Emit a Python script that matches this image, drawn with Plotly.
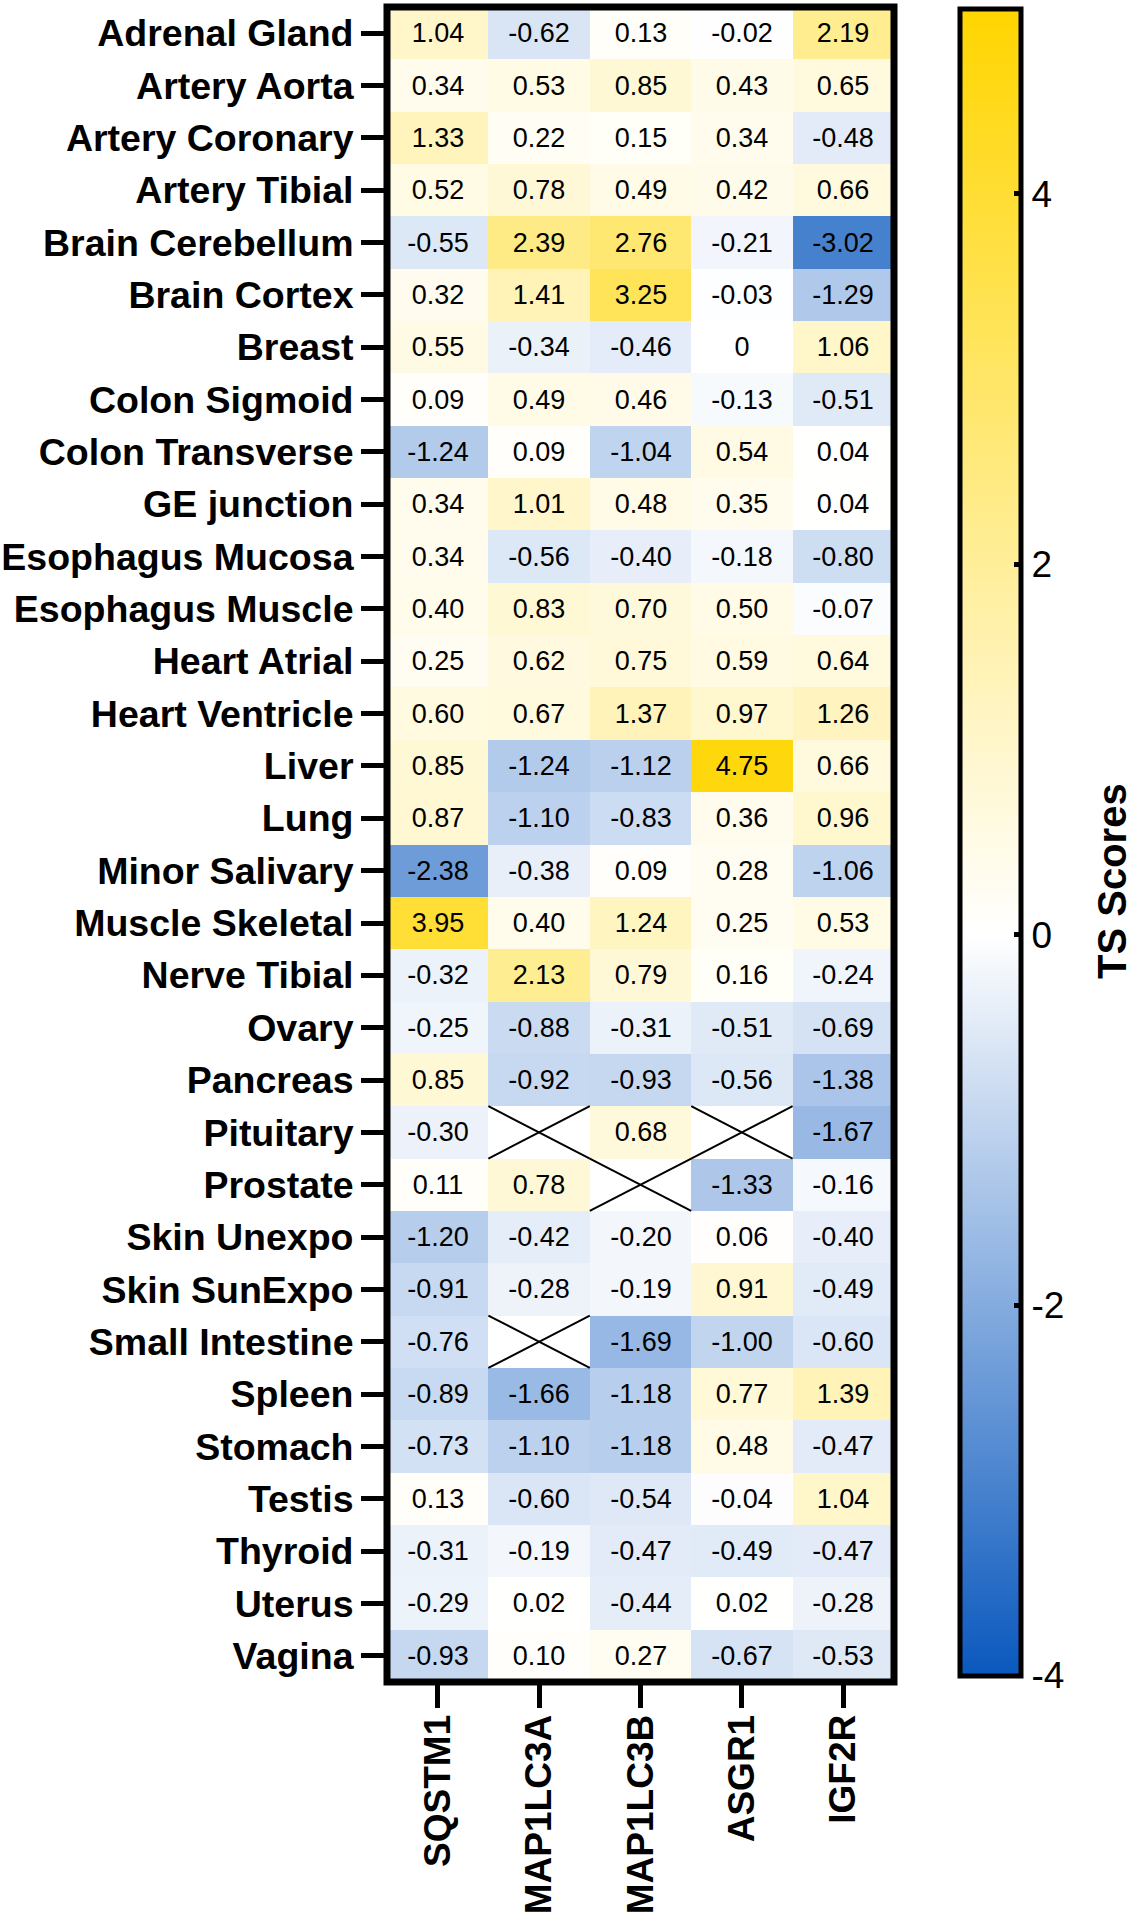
import plotly.graph_objects as go

tissues = ["Adrenal Gland", "Artery Aorta", "Artery Coronary", "Artery Tibial",
           "Brain Cerebellum", "Brain Cortex", "Breast", "Colon Sigmoid",
           "Colon Transverse", "GE junction", "Esophagus Mucosa", "Esophagus Muscle",
           "Heart Atrial", "Heart Ventricle", "Liver", "Lung", "Minor Salivary",
           "Muscle Skeletal", "Nerve Tibial", "Ovary", "Pancreas", "Pituitary",
           "Prostate", "Skin Unexpo", "Skin SunExpo", "Small Intestine", "Spleen",
           "Stomach", "Testis", "Thyroid", "Uterus", "Vagina"]

genes = ["SQSTM1", "MAP1LC3A", "MAP1LC3B", "ASGR1", "IGF2R"]

SQSTM1 = [1.04, 0.34, 1.33, 0.52, -0.55, 0.32, 0.55, 0.09, -1.24, 0.34, 0.34, 0.40,
          0.25, 0.60, 0.85, 0.87, -2.38, 3.95, -0.32, -0.25, 0.85, -0.30, 0.11,
          -1.20, -0.91, -0.76, -0.89, -0.73, 0.13, -0.31, -0.29, -0.93]
MAP1LC3A = [-0.62, 0.53, 0.22, 0.78, 2.39, 1.41, -0.34, 0.49, 0.09, 1.01, -0.56, 0.83,
            0.62, 0.67, -1.24, -1.10, -0.38, 0.40, 2.13, -0.88, -0.92, None, 0.78,
            -0.42, -0.28, None, -1.66, -1.10, -0.60, -0.19, 0.02, 0.10]
MAP1LC3B = [0.13, 0.85, 0.15, 0.49, 2.76, 3.25, -0.46, 0.46, -1.04, 0.48, -0.40, 0.70,
            0.75, 1.37, -1.12, -0.83, 0.09, 1.24, 0.79, -0.31, -0.93, 0.68, None,
            -0.20, -0.19, -1.69, -1.18, -1.18, -0.54, -0.47, -0.44, 0.27]
ASGR1 = [-0.02, 0.43, 0.34, 0.42, -0.21, -0.03, 0, -0.13, 0.54, 0.35, -0.18, 0.50,
         0.59, 0.97, 4.75, 0.36, 0.28, 0.25, 0.16, -0.51, -0.56, None, -1.33,
         0.06, 0.91, -1.00, 0.77, 0.48, -0.04, -0.49, 0.02, -0.67]
IGF2R = [2.19, 0.65, -0.48, 0.66, -3.02, -1.29, 1.06, -0.51, 0.04, 0.04, -0.80, -0.07,
         0.64, 1.26, 0.66, 0.96, -1.06, 0.53, -0.24, -0.69, -1.38, -1.67, -0.16,
         -0.40, -0.49, -0.60, 1.39, -0.47, 1.04, -0.47, -0.28, -0.53]

cbar_ticks = [-4, -2, 0, 2, 4]

columns = [SQSTM1, MAP1LC3A, MAP1LC3B, ASGR1, IGF2R]
z = [[col[r] for col in columns] for r in range(len(tissues))]


def fmt(v):
    if v is None:
        return ""
    if v == 0:
        return "0"
    return f"{v:.2f}"


text = [[fmt(v) for v in row] for row in z]

FONT = "Liberation Sans, Arial, sans-serif"

colorscale = [[0.0, "rgb(10,88,190)"], [4 / 9, "rgb(255,255,255)"], [1.0, "rgb(255,213,0)"]]

L, R, T, B = 387, 241, 7, 238
W, H = 1135, 1920
pw = W - L - R
ph = H - T - B


def px_x(p):
    return (p - L) / pw


def px_y(p):
    return (H - B - p) / ph


fig = go.Figure(go.Heatmap(
    x=genes, y=tissues, z=z, text=text, texttemplate="%{text}",
    textfont=dict(family=FONT, size=27, color="black"),
    colorscale=colorscale, zmin=-4, zmax=5, xgap=0, ygap=0,
    hoverongaps=False,
    colorbar=dict(
        thickness=61, thicknessmode="pixels",
        len=1667, lenmode="pixels",
        x=px_x(959.5), xanchor="left", xpad=0,
        y=px_y(8.5), yanchor="top", ypad=0,
        outlinewidth=5, outlinecolor="black",
        tickvals=cbar_ticks, ticktext=[str(t) for t in cbar_ticks],
        ticks="inside", ticklen=9, tickwidth=5, tickcolor="black",
        tickfont=dict(family=FONT, size=37, color="black"),
    ),
))

# X marks on missing cells
shapes = []
for r, row in enumerate(z):
    for c, v in enumerate(row):
        if v is None:
            shapes.append(dict(type="line", xref="x", yref="y",
                               x0=c - 0.5, x1=c + 0.5, y0=r - 0.5, y1=r + 0.5,
                               line=dict(color="black", width=2)))
            shapes.append(dict(type="line", xref="x", yref="y",
                               x0=c - 0.5, x1=c + 0.5, y0=r + 0.5, y1=r - 0.5,
                               line=dict(color="black", width=2)))

# frame around the heatmap, centred on the plot-area edges
shapes.append(dict(type="rect", xref="paper", yref="paper", x0=0, x1=1, y0=0, y1=1,
                   line=dict(color="black", width=7), fillcolor="rgba(0,0,0,0)",
                   layer="above"))

fig.update_layout(
    width=W, height=H,
    margin=dict(l=L, r=R, t=T, b=B, pad=0, autoexpand=False),
    paper_bgcolor="white", plot_bgcolor="white",
    shapes=shapes,
    annotations=[dict(text="TS Scores", textangle=-90, showarrow=False,
                      xref="paper", yref="paper", x=px_x(1112), y=px_y(881),
                      xanchor="center", yanchor="middle",
                      font=dict(family=FONT, size=40, color="black", weight="bold"))],
)

fig.update_xaxes(
    type="category", side="bottom", tickangle=-90, automargin=False,
    showline=False,
    ticks="outside", ticklen=25, tickwidth=5, tickcolor="black",
    ticklabelstandoff=-8,
    tickfont=dict(family=FONT, size=37, color="black", weight="bold"),
    showgrid=False, zeroline=False,
)
fig.update_yaxes(
    type="category", autorange="reversed", automargin=False,
    showline=False,
    ticks="outside", ticklen=25, tickwidth=5, tickcolor="black",
    tickfont=dict(family=FONT, size=37.5, color="black", weight="bold"),
    showgrid=False, zeroline=False,
)

fig.write_html("out.html", config={"displayModeBar": False},
               post_script="document.body.style.margin='0';")
